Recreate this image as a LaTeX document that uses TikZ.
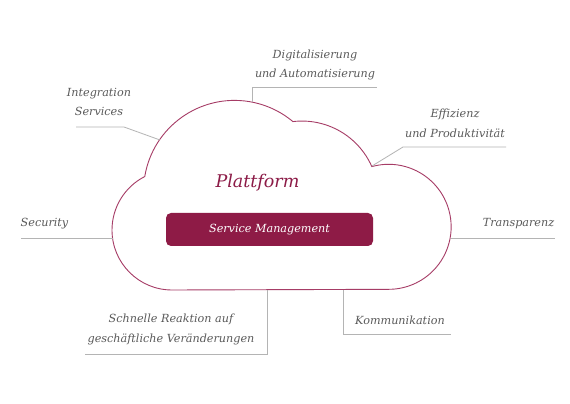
\documentclass[tikz,border=0pt]{standalone}
\usepackage{fontspec}
\setmainfont{DejaVu Serif}
\definecolor{txtgray}{HTML}{5A5A5A}
\definecolor{linegray}{HTML}{B4B4B4}
\definecolor{cloudc}{HTML}{A63C66}
\definecolor{platc}{HTML}{8C1B47}
\definecolor{boxc}{HTML}{8E1B46}
\begin{document}
\begin{tikzpicture}[x=1pt,y=1pt,
  lbl/.style={font=\fontsize{11.2}{19.5}\selectfont\itshape, text=txtgray, align=center, inner sep=0pt},
  conn/.style={draw=linegray, line width=0.8pt},
  cloudline/.style={draw=cloudc, line width=0.9pt}]
\useasboundingbox[fill=white] (0,0) rectangle (570,404);
% cloud
\path[cloudline] (172,114)
  arc[start angle=270, end angle=117, radius=60pt]
  arc[start angle=170.6, end angle=50.1, radius=91pt]
  arc[start angle=96.8, end angle=23.8, radius=76.4pt]
  arc[start angle=105.6, end angle=-90, radius=62.5pt]
  -- cycle;
% points on the cloud
\coordinate (cInt) at (160,264);
\coordinate (cDig) at (252,302);
\coordinate (cEff) at (372,238);
\coordinate (cSec) at (112.5,166);
\coordinate (cTra) at (450.7,166);
\coordinate (cSch) at (267,114);
\coordinate (cKom) at (343,114);
% bends and ends
\coordinate (bInt) at (124,277); \coordinate (eInt) at (76,277);
\coordinate (bDig) at (252,317); \coordinate (eDig) at (377,317);
\coordinate (bEff) at (403,257); \coordinate (eEff) at (506,257);
\coordinate (eSec) at (21,166);
\coordinate (eTra) at (555,166);
\coordinate (bSch) at (267,50);  \coordinate (eSch) at (85,50);
\coordinate (bKom) at (343,70);  \coordinate (eKom) at (451,70);
% center
\node[font=\fontsize{17.5}{20}\selectfont\itshape, text=platc, anchor=base] (plat) at (257.5,216) {Plattform};
\node[fill=boxc, rounded corners=5pt, minimum width=207pt, minimum height=33pt, inner sep=0pt,
  text=white, font=\fontsize{11.2}{13}\selectfont\itshape] (sm) at (269.5,174.5) {Service Management};
% labels
\node[lbl] (lInt) at (99,302) {Integration\\Services};
\node[lbl] (lDig) at (315,339) {Digitalisierung\\und Automatisierung};
\node[lbl] (lEff) at (455,280.5) {Effizienz\\und Produktivität};
\node[lbl] (lSec) at (44.5,180) {Security};
\node[lbl] (lTra) at (518.5,180) {Transparenz};
\node[lbl] (lSch) at (171,74.5) {Schnelle Reaktion auf\\geschäftliche Veränderungen};
\node[lbl] (lKom) at (400,84) {Kommunikation};
% connectors
\draw[conn] (cInt) -- (bInt) -- (eInt);
\draw[conn] (cDig) -- (bDig) -- (eDig);
\draw[conn] (cEff) -- (bEff) -- (eEff);
\draw[conn] (cSec) -- (eSec);
\draw[conn] (cTra) -- (eTra);
\draw[conn] (cSch) -- (bSch) -- (eSch);
\draw[conn] (cKom) -- (bKom) -- (eKom);
\end{tikzpicture}
\end{document}
